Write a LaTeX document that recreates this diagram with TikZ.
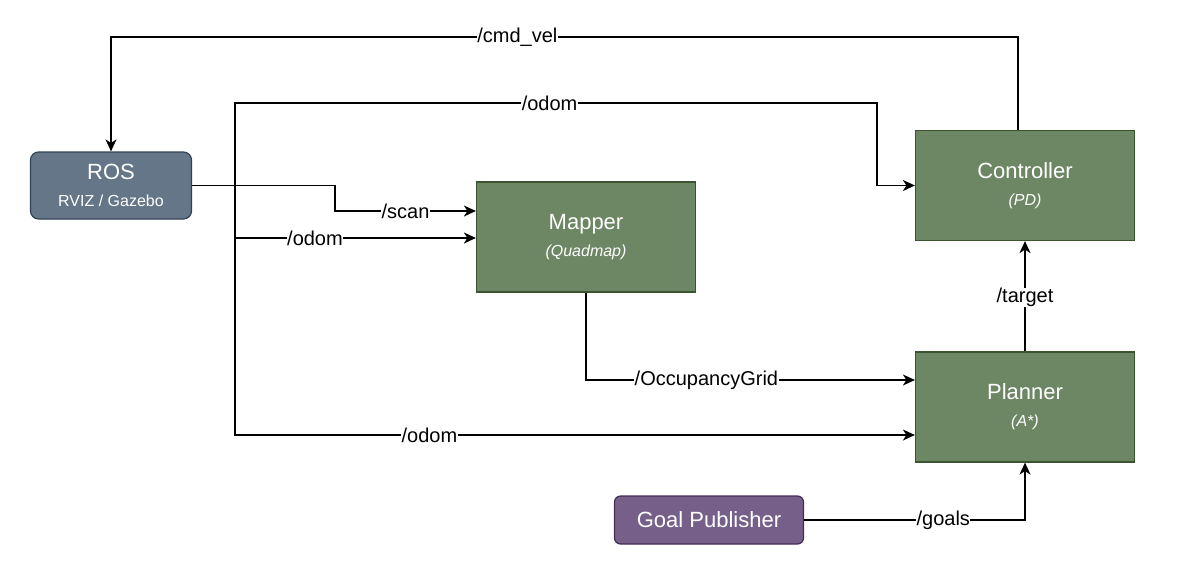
\documentclass[tikz,border=0pt]{standalone}
\usepackage{fontspec}
\setmainfont{Liberation Sans}
\usetikzlibrary{arrows.meta}
\usetikzlibrary{positioning}
\definecolor{blockgreen}{HTML}{6D8764}
\definecolor{blockgreenline}{HTML}{3A5431}
\definecolor{rosfill}{HTML}{647687}
\definecolor{rosline}{HTML}{314354}
\definecolor{goalfill}{HTML}{76608A}
\definecolor{goalline}{HTML}{432D57}
\tikzset{
    block/.style={draw=blockgreenline, fill=blockgreen, line width=1.2pt, text=white, align=center,
        minimum width=219pt, minimum height=110pt, inner sep=0pt, font=\fontsize{22}{27}\selectfont},
    rosblock/.style={block, draw=rosline, fill=rosfill, rounded corners=8pt,
        minimum width=161pt, minimum height=67pt},
    goalblock/.style={block, draw=goalline, fill=goalfill, rounded corners=6pt,
        minimum width=189pt, minimum height=48pt},
    flow/.style={line width=1.5pt, -{Stealth[length=12pt, width=11pt, inset=3.5pt]}},
    wire/.style={line width=1.5pt},
    lbl/.style={fill=white, inner sep=0.5pt, font=\fontsize{20}{22}\selectfont},
}
\newcommand{\subtext}[1]{{\fontsize{16}{27}\selectfont #1}}

\begin{document}
\begin{tikzpicture}[x=1pt, y=-1pt]
    \useasboundingbox (0,0) rectangle (1183,579);

    \node[rosblock] (ros) at (111,185.5) {ROS\\\subtext{RVIZ / Gazebo}};
    \node[block] (mapper) at (586,237) {Mapper\\\subtext{\itshape (Quadmap)}};
    \node[block] (ctrl) at (1025,185.5) {Controller\\\subtext{\itshape (PD)}};
    \node[block] (plan) at (1025,407) {Planner\\\subtext{\itshape (A*)}};
    \node[goalblock] (goal) at (709,520) {Goal Publisher};

    \coordinate (split) at (235,185);

    % ROS topics
    \draw[flow] (ros.east) -- ++(143,0) |- node[lbl, pos=0.75] {/scan} ([yshift=26pt]mapper.west);
    \draw[flow] (split) |- node[lbl, pos=0.666] {/odom} ([yshift=-1pt]mapper.west);
    \draw[flow] (split) -- ++(0,-82) -- node[lbl, pos=0.49] {/odom} ++(642,0) |- (ctrl.west);
    \draw[flow] (split) |- node[lbl, pos=0.643] {/odom} ([yshift=-28pt]plan.west);
    \draw[wire] (split) -- ++(0,52);

    % controller output
    \draw[flow] ([xshift=-7pt]ctrl.north) -- ++(0,-93) -| node[lbl, pos=0.276] {/cmd\_vel} (ros.north);

    \draw[flow] (mapper.south) |- node[lbl, pos=0.683] {/OccupancyGrid} ([yshift=27pt]plan.west);
    \draw[flow] (plan.north) -- node[lbl, pos=0.49] {/target} (ctrl.south);
    \draw[flow] (goal.east) -| node[lbl, pos=0.315] {/goals} (plan.south);

\end{tikzpicture}
\end{document}
